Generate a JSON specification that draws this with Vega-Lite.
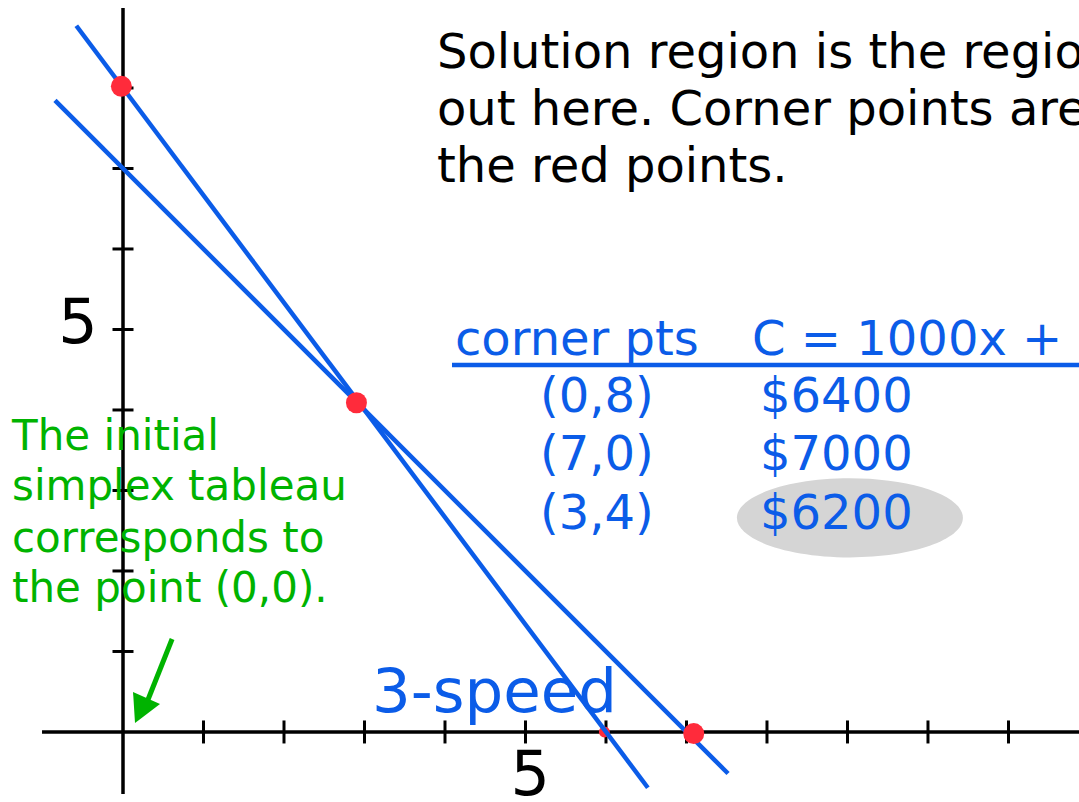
{
  "$schema": "https://vega.github.io/schema/vega-lite/v6.json",
  "width": 1079,
  "height": 802,
  "autosize": {"type": "none"},
  "padding": 0,
  "background": "white",
  "config": {"view": {"stroke": null}},
  "datasets": {
    "lines": [
      {"line": "a", "x": -0.58, "y": 8.773},
      {"line": "a", "x": 6.52, "y": -0.693},
      {"line": "b", "x": -0.845, "y": 7.845},
      {"line": "b", "x": 7.516, "y": -0.516}
    ],
    "axes": [
      {"axis": "x", "x": -1.006, "x2": 11.9, "y": 0, "y2": 0},
      {"axis": "y", "x": 0, "x2": 0, "y": -0.77, "y2": 8.994}
    ],
    "xticks": [{"x": 1, "y": 0}, {"x": 2, "y": 0}, {"x": 3, "y": 0}, {"x": 4, "y": 0}, {"x": 5, "y": 0}, {"x": 6, "y": 0}, {"x": 7, "y": 0}, {"x": 8, "y": 0}, {"x": 9, "y": 0}, {"x": 10, "y": 0}, {"x": 11, "y": 0}],
    "yticks": [{"x": 0, "y": 1}, {"x": 0, "y": 2}, {"x": 0, "y": 3}, {"x": 0, "y": 4}, {"x": 0, "y": 5}, {"x": 0, "y": 6}, {"x": 0, "y": 7}, {"x": 0, "y": 8}],
    "corners": [
      {"label": "(0,8)", "x": -0.02, "y": 8.02},
      {"label": "(3,4)", "x": 2.9, "y": 4.09},
      {"label": "(7,0)", "x": 7.09, "y": -0.02}
    ],
    "smalldot": [{"x": 5.98, "y": 0}],
    "highlight": [{"x": 9.03, "y": 2.66}],
    "arrow": [{"x": 0.61, "y": 1.155, "x2": 0.31, "y2": 0.40}],
    "arrowhead": [{"x": 0.245, "y": 0.319}],
    "texts": [
      {"group": "note", "text": "Solution region is the region", "x": 3.9, "y": 8.248},
      {"group": "note", "text": "out here. Corner points are", "x": 3.9, "y": 7.54},
      {"group": "note", "text": "the red points.", "x": 3.9, "y": 6.832},
      {"group": "table", "text": "corner pts", "x": 4.124, "y": 4.683},
      {"group": "table", "text": "C = 1000x + 800y", "x": 7.814, "y": 4.683},
      {"group": "table", "text": "(0,8)", "x": 5.18, "y": 3.975},
      {"group": "table", "text": "$6400", "x": 7.913, "y": 3.975},
      {"group": "table", "text": "(7,0)", "x": 5.18, "y": 3.255},
      {"group": "table", "text": "$7000", "x": 7.913, "y": 3.255},
      {"group": "table", "text": "(3,4)", "x": 5.18, "y": 2.522},
      {"group": "table", "text": "$6200", "x": 7.913, "y": 2.522},
      {"group": "green", "text": "The initial", "x": -1.379, "y": 3.503},
      {"group": "green", "text": "simplex tableau", "x": -1.379, "y": 2.882},
      {"group": "green", "text": "corresponds to", "x": -1.379, "y": 2.236},
      {"group": "green", "text": "the point (0,0).", "x": -1.379, "y": 1.615},
      {"group": "speed", "text": "3-speed", "x": 3.093, "y": 0.248},
      {"group": "ticklabel", "text": "5", "x": 5.06, "y": -0.783},
      {"group": "ticklabel", "text": "5", "x": -0.559, "y": 4.832}
    ],
    "underline": [{"x": 4.087, "x2": 12.5, "y": 4.559}]
  },
  "encoding": {
    "x": {"field": "x", "type": "quantitative", "scale": {"domain": [-1.528, 11.876], "nice": false, "zero": false}, "axis": null},
    "y": {"field": "y", "type": "quantitative", "scale": {"domain": [-0.87, 9.093], "nice": false, "zero": false}, "axis": null}
  },
  "layer": [
    {
      "data": {"name": "highlight"},
      "mark": {"type": "point", "shape": "M-1,0A1,0.35,0,1,1,1,0A1,0.35,0,1,1,-1,0Z", "filled": true, "color": "#d5d5d5", "opacity": 1, "size": 51076, "strokeWidth": 0}
    },
    {
      "data": {"name": "axes"},
      "mark": {"type": "rule", "color": "#000000", "strokeWidth": 3.5},
      "encoding": {
        "x2": {"field": "x2"},
        "y2": {"field": "y2"}
      }
    },
    {
      "data": {"name": "xticks"},
      "mark": {"type": "tick", "orient": "vertical", "color": "#000000", "size": 23, "thickness": 3, "opacity": 1}
    },
    {
      "data": {"name": "yticks"},
      "mark": {"type": "tick", "orient": "horizontal", "color": "#000000", "size": 21, "thickness": 3, "opacity": 1}
    },
    {
      "data": {"name": "smalldot"},
      "mark": {"type": "point", "shape": "circle", "filled": true, "color": "#ff2b3b", "opacity": 1, "size": 120, "strokeWidth": 0}
    },
    {
      "data": {"name": "underline"},
      "mark": {"type": "rule", "color": "#0b5ce8", "strokeWidth": 4.5},
      "encoding": {
        "x2": {"field": "x2"}
      }
    },
    {
      "data": {"name": "texts"},
      "transform": [{"filter": "datum.group === 'note'"}],
      "mark": {"type": "text", "align": "left", "baseline": "alphabetic", "font": "DejaVu Sans", "fontSize": 48, "color": "#000000"},
      "encoding": {"text": {"field": "text"}}
    },
    {
      "data": {"name": "texts"},
      "transform": [{"filter": "datum.group === 'table'"}],
      "mark": {"type": "text", "align": "left", "baseline": "alphabetic", "font": "DejaVu Sans", "fontSize": 48, "color": "#0b5ce8"},
      "encoding": {"text": {"field": "text"}}
    },
    {
      "data": {"name": "texts"},
      "transform": [{"filter": "datum.group === 'green'"}],
      "mark": {"type": "text", "align": "left", "baseline": "alphabetic", "font": "DejaVu Sans", "fontSize": 42, "color": "#00b300"},
      "encoding": {"text": {"field": "text"}}
    },
    {
      "data": {"name": "texts"},
      "transform": [{"filter": "datum.group === 'speed'"}],
      "mark": {"type": "text", "align": "left", "baseline": "alphabetic", "font": "DejaVu Sans", "fontSize": 61, "color": "#0b5ce8"},
      "encoding": {"text": {"field": "text"}}
    },
    {
      "data": {"name": "texts"},
      "transform": [{"filter": "datum.group === 'ticklabel'"}],
      "mark": {"type": "text", "align": "center", "baseline": "alphabetic", "font": "DejaVu Sans", "fontSize": 62, "color": "#000000"},
      "encoding": {"text": {"field": "text"}}
    },
    {
      "data": {"name": "lines"},
      "mark": {"type": "line", "color": "#0b5ce8", "strokeWidth": 4.5},
      "encoding": {"detail": {"field": "line"}}
    },
    {
      "data": {"name": "corners"},
      "mark": {"type": "point", "shape": "circle", "filled": true, "color": "#ff2b3b", "opacity": 1, "size": 441, "strokeWidth": 0}
    },
    {
      "data": {"name": "arrow"},
      "mark": {"type": "rule", "color": "#00b300", "strokeWidth": 5},
      "encoding": {
        "x2": {"field": "x2"},
        "y2": {"field": "y2"}
      }
    },
    {
      "data": {"name": "arrowhead"},
      "mark": {"type": "point", "shape": "M-0.385,0.835L-0.485,-0.715L0.865,-0.115Z", "filled": true, "color": "#00b300", "opacity": 1, "size": 1600, "strokeWidth": 0}
    }
  ]
}
